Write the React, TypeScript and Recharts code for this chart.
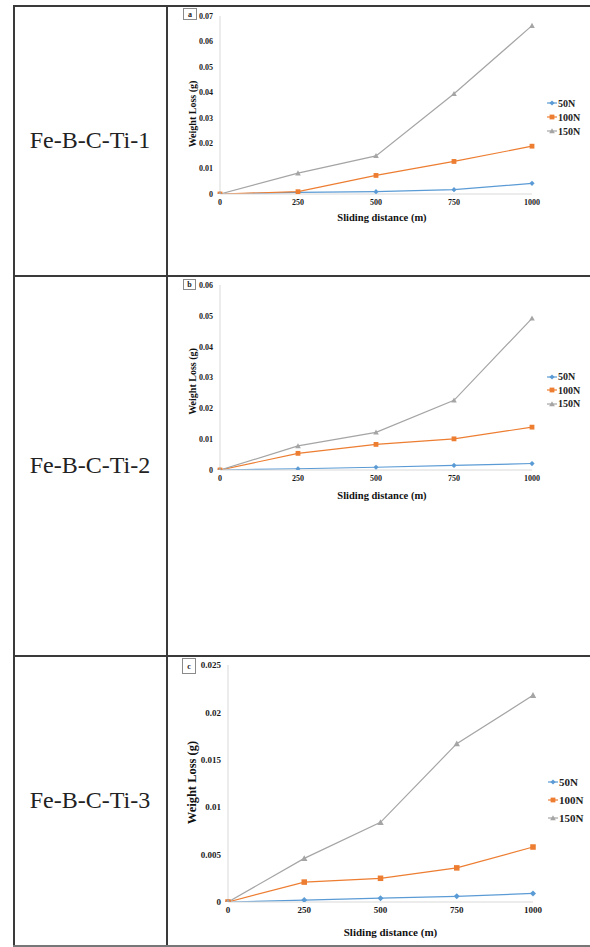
import React from 'react';
import { LineChart, Line, XAxis, YAxis, Legend } from 'recharts';

// sliding distance (m)
const distance = [0, 250, 500, 750, 1000];
const xTicks = [0, 250, 500, 750, 1000];

// Fe-B-C-Ti-1 (panel a), weight loss in g
const a50N = [0, 0.0006, 0.0009, 0.0017, 0.0042];
const a100N = [0, 0.0009, 0.0073, 0.0128, 0.0188];
const a150N = [0, 0.0082, 0.015, 0.0394, 0.0662];
const aYTicks = [0, 0.01, 0.02, 0.03, 0.04, 0.05, 0.06, 0.07];
const aYLabels = ['0', '0.01', '0.02', '0.03', '0.04', '0.05', '0.06', '0.07'];

// Fe-B-C-Ti-2 (panel b)
const b50N = [0, 0.0004, 0.0009, 0.0015, 0.0021];
const b100N = [0, 0.0054, 0.0083, 0.0101, 0.0139];
const b150N = [0, 0.0078, 0.0122, 0.0226, 0.0492];
const bYTicks = [0, 0.01, 0.02, 0.03, 0.04, 0.05, 0.06];
const bYLabels = ['0', '0.01', '0.02', '0.03', '0.04', '0.05', '0.06'];

// Fe-B-C-Ti-3 (panel c)
const c50N = [0, 0.0002, 0.0004, 0.0006, 0.0009];
const c100N = [0, 0.0021, 0.0025, 0.0036, 0.0058];
const c150N = [0, 0.0046, 0.0084, 0.0167, 0.0218];
const cYTicks = [0, 0.005, 0.01, 0.015, 0.02, 0.025];
const cYLabels = ['0', '0.005', '0.01', '0.015', '0.02', '0.025'];

const loads = ['50N', '100N', '150N'];
const colors = ['#5b9bd5', '#ed7d31', '#a5a5a5'];

const serif = '"Liberation Serif", "Times New Roman", serif';

const marker = (kind: number, cx: number, cy: number, color: string, s = 1) => {
  if (kind === 0) {
    const r = 2.6 * s;
    return <path d={`M${cx},${cy - r}L${cx + r},${cy}L${cx},${cy + r}L${cx - r},${cy}Z`} fill={color} />;
  }
  if (kind === 1) {
    const r = 2.4 * s;
    return <rect x={cx - r} y={cy - r} width={r * 2} height={r * 2} fill={color} />;
  }
  const r = 2.8 * s;
  return <path d={`M${cx},${cy - r}L${cx + r},${cy + r * 0.8}L${cx - r},${cy + r * 0.8}Z`} fill={color} />;
};

const makeDot = (kind: number, color: string, s: number) => (props: any) => {
  const { cx, cy, index } = props;
  if (cx == null || cy == null) return <g key={index} />;
  return <g key={`d-${kind}-${index}`}>{marker(kind, cx, cy, color, s)}</g>;
};

interface Panel {
  tag: string;
  name: string;
  top: number;
  height: number;
  s50: number[];
  s100: number[];
  s150: number[];
  yTicks: number[];
  yLabels: string[];
  margin: { top: number; right: number; left: number; bottom: number };
  yWidth: number;
  tickFont: number;
  titleFont: number;
  yTitleFont: number;
  legendFont: number;
  legendLeft: number;
  legendTop: number;
  legendRow: number;
  xTitleDx: number;
  xTitleDy: number;
  yTitleX: number;
  yTitleDy: number;
  tagBox: { left: number; top: number; w: number; h: number };
  markScale: number;
}

const panels: Panel[] = [
  {
    tag: 'a', name: 'Fe-B-C-Ti-1', top: 6, height: 269,
    s50: a50N, s100: a100N, s150: a150N, yTicks: aYTicks, yLabels: aYLabels,
    margin: { top: 10, right: 58, left: 0, bottom: 51 }, yWidth: 54,
    tickFont: 8, titleFont: 10.5, yTitleFont: 10, legendFont: 10,
    legendLeft: 381, legendTop: 90, legendRow: 14,
    xTitleDx: 6, xTitleDy: 23, yTitleX: 26, yTitleDy: 9,
    tagBox: { left: 183, top: 8, w: 14, h: 12 }, markScale: 1,
  },
  {
    tag: 'b', name: 'Fe-B-C-Ti-2', top: 276, height: 379,
    s50: b50N, s100: b100N, s150: b150N, yTicks: bYTicks, yLabels: bYLabels,
    margin: { top: 9, right: 58, left: 0, bottom: 155 }, yWidth: 54,
    tickFont: 8, titleFont: 10.5, yTitleFont: 10, legendFont: 10,
    legendLeft: 381, legendTop: 94, legendRow: 13.5,
    xTitleDx: 6, xTitleDy: 25, yTitleX: 26.5, yTitleDy: 4,
    tagBox: { left: 183, top: 279, w: 13, h: 11 }, markScale: 1,
  },
  {
    tag: 'c', name: 'Fe-B-C-Ti-3', top: 656, height: 289,
    s50: c50N, s100: c100N, s150: c150N, yTicks: cYTicks, yLabels: cYLabels,
    margin: { top: 9, right: 57, left: 0, bottom: 13 }, yWidth: 62,
    tickFont: 9, titleFont: 11, yTitleFont: 12.5, legendFont: 11,
    legendLeft: 382, legendTop: 117, legendRow: 18,
    xTitleDx: 10, xTitleDy: 30, yTitleX: 26, yTitleDy: -1,
    tagBox: { left: 182, top: 658, w: 14, h: 16 }, markScale: 1.15,
  },
];

const ChartLegend = ({ p }: { p: Panel }) => (
  <div style={{ fontFamily: serif, fontWeight: 700, fontSize: p.legendFont, color: '#222' }}>
    {loads.map((l, i) => (
      <div key={l} style={{ height: p.legendRow, display: 'flex', alignItems: 'center' }}>
        <svg width={10} height={8} style={{ marginRight: 1 }}>
          <line x1={0} y1={4} x2={10} y2={4} stroke={colors[i]} strokeWidth={1.2} />
          {marker(i, 5, 4, colors[i], 1)}
        </svg>
        <span>{l}</span>
      </div>
    ))}
  </div>
);

const PanelChart = ({ p }: { p: Panel }) => {
  const data = distance.map((d, i) => ({ d, s50: p.s50[i], s100: p.s100[i], s150: p.s150[i] }));
  const keys = ['s50', 's100', 's150'];
  const yMax = p.yTicks[p.yTicks.length - 1];
  const tick = { fontSize: p.tickFont, fontWeight: 700, fill: '#1a1a1a', fontFamily: serif };
  return (
    <LineChart width={424} height={p.height} data={data} margin={p.margin}>
      <XAxis
        dataKey="d" type="number" domain={[0, 1000]} ticks={xTicks} interval={0}
        height={30} tickSize={0} tickMargin={5} tickLine={false}
        axisLine={{ stroke: '#d9d9d9' }} tick={tick}
        label={{
          content: (lp: any) => {
            const vb = lp.viewBox || { x: 0, y: 0, width: 0 };
            return (
              <text x={vb.x + vb.width / 2 + p.xTitleDx} y={vb.y + p.xTitleDy} textAnchor="middle"
                dominantBaseline="central" fontFamily={serif} fontWeight={700}
                fontSize={p.titleFont} fill="#111">Sliding distance (m)</text>
            );
          },
        }}
      />
      <YAxis
        type="number" domain={[0, yMax]} ticks={p.yTicks} interval={0} width={p.yWidth}
        tickSize={0} tickMargin={7} tickLine={false} axisLine={{ stroke: '#d9d9d9' }}
        tick={tick} tickFormatter={(v: number) => p.yLabels[p.yTicks.indexOf(v)] ?? String(v)}
        allowDataOverflow
        label={{
          content: (lp: any) => {
            const vb = lp.viewBox || { x: 0, y: 0, height: 0 };
            const cy = vb.y + vb.height / 2 + p.yTitleDy;
            return (
              <text x={p.yTitleX} y={cy} textAnchor="middle" dominantBaseline="central"
                transform={`rotate(-90 ${p.yTitleX} ${cy})`} fontFamily={serif} fontWeight={700}
                fontSize={p.yTitleFont} fill="#111">Weight Loss (g)</text>
            );
          },
        }}
      />
      <Legend
        layout="horizontal" verticalAlign="middle" align="center"
        wrapperStyle={{ left: p.legendLeft, top: p.legendTop, width: 'auto' }}
        content={() => <ChartLegend p={p} />}
      />
      {keys.map((k, i) => (
        <Line
          key={k} dataKey={k} name={loads[i]} type="linear" stroke={colors[i]} strokeWidth={1.2}
          dot={makeDot(i, colors[i], p.markScale)} activeDot={false} isAnimationActive={false}
        />
      ))}
    </LineChart>
  );
};

const border = '#3a3a3a';

export default function App() {
  return (
    <div style={{ position: 'absolute', left: 0, top: 0, width: 590, height: 947, background: '#fff', overflow: 'hidden' }}>
      {panels.map((p) => (
        <React.Fragment key={p.tag}>
          <div style={{
            position: 'absolute', left: 14, top: p.top, width: 152, height: p.height,
            display: 'flex', alignItems: 'center', justifyContent: 'center',
            fontFamily: serif, fontSize: 24, color: '#222',
          }}>{p.name}</div>
          <div style={{ position: 'absolute', left: 166, top: p.top }}>
            <PanelChart p={p} />
          </div>
          <div style={{
            position: 'absolute', left: p.tagBox.left, top: p.tagBox.top, width: p.tagBox.w, height: p.tagBox.h,
            boxSizing: 'border-box', border: '1px solid #8a8a8a', background: '#fff',
            display: 'flex', alignItems: 'center', justifyContent: 'center',
            fontFamily: serif, fontWeight: 700, fontSize: 8, color: '#222',
          }}>{p.tag}</div>
        </React.Fragment>
      ))}
      {/* table rules */}
      <div style={{ position: 'absolute', left: 13, top: 5, width: 1.5, height: 941, background: border }} />
      <div style={{ position: 'absolute', left: 166, top: 5, width: 1.5, height: 941, background: border }} />
      {[5, 275, 655].map((y) => (
        <div key={y} style={{ position: 'absolute', left: 13, top: y, width: 577, height: 1.5, background: border }} />
      ))}
      <div style={{ position: 'absolute', left: 13, top: 945, width: 577, height: 1.5, background: '#777' }} />
    </div>
  );
}
